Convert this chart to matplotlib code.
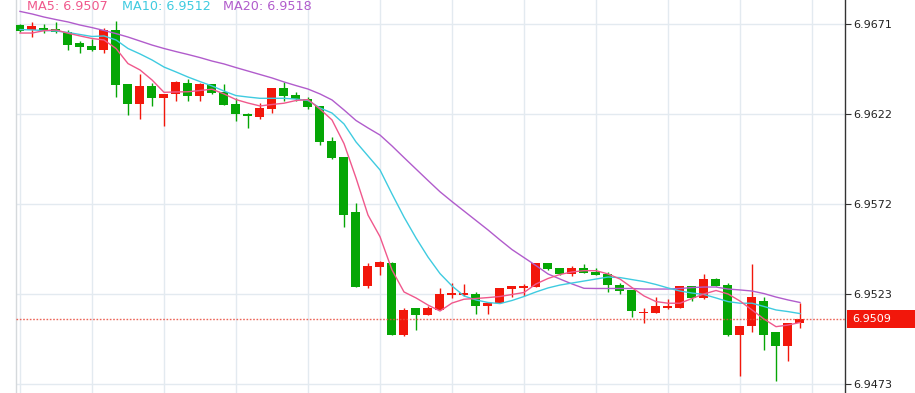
import matplotlib
matplotlib.use("Agg")
import matplotlib.pyplot as plt
from matplotlib.transforms import blended_transform_factory
from matplotlib.patches import Rectangle

# ---- data ----
opens = [6.96706, 6.96676, 6.96690, 6.96684, 6.96669, 6.96609, 6.96589, 6.96566, 6.96679, 6.96379,
         6.96273, 6.96371, 6.96305, 6.96325, 6.96387, 6.96315, 6.96380, 6.96339, 6.96270, 6.96219,
         6.96202, 6.96244, 6.96360, 6.96321, 6.96301, 6.96261, 6.96070, 6.95980, 6.95678, 6.95272,
         6.95374, 6.95399, 6.95001, 6.95148, 6.95111, 6.95140, 6.95221, 6.95221, 6.95228, 6.95162,
         6.95176, 6.95256, 6.95260, 6.95264, 6.95399, 6.95368, 6.95335, 6.95368, 6.95349, 6.95338,
         6.95278, 6.95250, 6.95122, 6.95124, 6.95151, 6.95151, 6.95269, 6.95203, 6.95309, 6.95278,
         6.95003, 6.95052, 6.95188, 6.95018, 6.94942, 6.95065]
highs = [6.96710, 6.96721, 6.96710, 6.96720, 6.96677, 6.96619, 6.96628, 6.96689, 6.96729, 6.96380,
         6.96439, 6.96387, 6.96328, 6.96399, 6.96408, 6.96386, 6.96380, 6.96380, 6.96303, 6.96221,
         6.96279, 6.96360, 6.96391, 6.96338, 6.96309, 6.96261, 6.96089, 6.95980, 6.95729, 6.95399,
         6.95408, 6.95400, 6.95151, 6.95148, 6.95162, 6.95260, 6.95287, 6.95280, 6.95238, 6.95179,
         6.95260, 6.95271, 6.95280, 6.95399, 6.95399, 6.95368, 6.95381, 6.95390, 6.95368, 6.95348,
         6.95287, 6.95250, 6.95148, 6.95209, 6.95199, 6.95269, 6.95269, 6.95338, 6.95313, 6.95287,
         6.95049, 6.95390, 6.95209, 6.95018, 6.95067, 6.95179]
lows = [6.96669, 6.96641, 6.96661, 6.96664, 6.96570, 6.96551, 6.96565, 6.96551, 6.96309, 6.96210,
        6.96189, 6.96259, 6.96148, 6.96289, 6.96289, 6.96289, 6.96327, 6.96264, 6.96180, 6.96141,
        6.96189, 6.96221, 6.96290, 6.96290, 6.96243, 6.96048, 6.95971, 6.95597, 6.95263, 6.95260,
        6.95330, 6.95001, 6.94997, 6.95030, 6.95111, 6.95140, 6.95206, 6.95217, 6.95117, 6.95118,
        6.95176, 6.95210, 6.95214, 6.95264, 6.95360, 6.95331, 6.95327, 6.95344, 6.95331, 6.95239,
        6.95227, 6.95099, 6.95069, 6.95124, 6.95143, 6.95151, 6.95190, 6.95199, 6.95269, 6.94997,
        6.94777, 6.95019, 6.94920, 6.94748, 6.94858, 6.95038]
closes = [6.96675, 6.96699, 6.96676, 6.96665, 6.96595, 6.96584, 6.96566, 6.96680, 6.96375, 6.96273,
          6.96371, 6.96305, 6.96328, 6.96390, 6.96315, 6.96380, 6.96334, 6.96265, 6.96215, 6.96206,
          6.96250, 6.96360, 6.96313, 6.96298, 6.96255, 6.96063, 6.95975, 6.95663, 6.95264, 6.95381,
          6.95401, 6.95003, 6.95140, 6.95111, 6.95148, 6.95228, 6.95231, 6.95231, 6.95162, 6.95179,
          6.95260, 6.95271, 6.95271, 6.95399, 6.95364, 6.95335, 6.95368, 6.95344, 6.95331, 6.95275,
          6.95245, 6.95133, 6.95128, 6.95159, 6.95161, 6.95269, 6.95203, 6.95309, 6.95272, 6.95001,
          6.95049, 6.95209, 6.95003, 6.94942, 6.95067, 6.95090]

ma5 = [6.96662, 6.96662, 6.96675, 6.96679, 6.96661, 6.96646, 6.96632, 6.96624, 6.96577, 6.96494,
       6.96459, 6.96404, 6.96336, 6.96338, 6.96339, 6.96346, 6.96353, 6.96327, 6.96296, 6.96277,
       6.96261, 6.96269, 6.96276, 6.96291, 6.96296, 6.96244, 6.96184, 6.96054, 6.95865, 6.95661,
       6.95542, 6.95359, 6.95238, 6.95205, 6.95166, 6.95133, 6.95177, 6.95198, 6.95202, 6.95207,
       6.95213, 6.95224, 6.95235, 6.95282, 6.95312, 6.95334, 6.95348, 6.95355, 6.95355, 6.95337,
       6.95309, 6.95262, 6.95216, 6.95185, 6.95176, 6.95176, 6.95202, 6.95227, 6.95246, 6.95227,
       6.95188, 6.95139, 6.95089, 6.95047, 6.95056, 6.95070]
ma10 = [6.96681, 6.96679, 6.96676, 6.96673, 6.96665, 6.96654, 6.96643, 6.96646, 6.96624, 6.96577,
        6.96547, 6.96514, 6.96475, 6.96448, 6.96420, 6.96395, 6.96371, 6.96343, 6.96318, 6.96310,
        6.96303, 6.96303, 6.96303, 6.96299, 6.96291, 6.96250, 6.96222, 6.96162, 6.96063, 6.95986,
        6.95909, 6.95777, 6.95650, 6.95535, 6.95430, 6.95339, 6.95271, 6.95216, 6.95194, 6.95180,
        6.95174, 6.95191, 6.95213, 6.95238, 6.95260, 6.95276, 6.95287, 6.95298, 6.95309, 6.95320,
        6.95317, 6.95306, 6.95295, 6.95279, 6.95260, 6.95243, 6.95232, 6.95224, 6.95205, 6.95185,
        6.95176, 6.95176, 6.95158, 6.95139, 6.95130, 6.95119]
ma20 = [6.96781, 6.96767, 6.96750, 6.96736, 6.96723, 6.96706, 6.96692, 6.96676, 6.96659, 6.96640,
        6.96618, 6.96596, 6.96577, 6.96560, 6.96544, 6.96527, 6.96508, 6.96492, 6.96472, 6.96453,
        6.96434, 6.96415, 6.96393, 6.96373, 6.96354, 6.96327, 6.96294, 6.96239, 6.96181, 6.96140,
        6.96101, 6.96041, 6.95977, 6.95914, 6.95851, 6.95789, 6.95735, 6.95683, 6.95631, 6.95579,
        6.95524, 6.95471, 6.95427, 6.95383, 6.95337, 6.95309, 6.95282, 6.95258, 6.95257, 6.95257,
        6.95257, 6.95257, 6.95254, 6.95254, 6.95254, 6.95257, 6.95262, 6.95265, 6.95265, 6.95254,
        6.95249, 6.95243, 6.95229, 6.95210, 6.95194, 6.95180]

ytick_values = [6.9671, 6.96215, 6.9572, 6.95225, 6.9473]
ytick_labels = ["6.9671", "6.9622", "6.9572", "6.9523", "6.9473"]
last_price = 6.9509
last_label = "6.9509"
ma_labels = ["MA5: 6.9507", "MA10: 6.9512", "MA20: 6.9518"]

# ---- styles ----
UP = "#f2170b"
DOWN = "#05a605"
C_MA5 = "#f0588c"
C_MA10 = "#3fcbe0"
C_MA20 = "#b15ccc"
GRID = "#e3eaf0"

W, H = 915, 393
fig = plt.figure(figsize=(W / 100, H / 100), dpi=100)
left_px, right_px = 16, 845
ax = fig.add_axes([left_px / W, 0, (right_px - left_px) / W, 1])

n = len(opens)
xs = list(range(n))

ax.set_xlim(-0.333, 68.75)
ax.set_ylim(6.946822, 6.968437)

# grid
for k in range(0, n + 6, 6):
    ax.axvline(k, color=GRID, lw=1, zorder=0)
for v in ytick_values:
    ax.axhline(v, color=GRID, lw=1, zorder=0)

# candles
min_body = 0.00006
for i in xs:
    o, h, l, c = opens[i], highs[i], lows[i], closes[i]
    col = UP if c >= o else DOWN
    ax.vlines(i, l, h, color=col, lw=1, zorder=2)
    body = abs(c - o)
    bottom = min(o, c)
    if body < min_body:
        bottom = (o + c) / 2 - min_body / 2
        body = min_body
    ax.bar(i, body, bottom=bottom, width=0.75, color=col, edgecolor=col,
           linewidth=0, zorder=3)

# moving averages
ax.plot(xs, ma20, color=C_MA20, lw=1, zorder=4)
ax.plot(xs, ma10, color=C_MA10, lw=1, zorder=4)
ax.plot(xs, ma5, color=C_MA5, lw=1, zorder=4)

# last price line
ax.axhline(last_price, color="#e84a3c", lw=1, ls=(0, (1.2, 1.2)), alpha=0.85, zorder=5)

# axes styling
for s in ["top", "bottom"]:
    ax.spines[s].set_visible(False)
ax.spines["left"].set_color("#d5d9dc")
ax.spines["left"].set_linewidth(1)
ax.spines["right"].set_color("#333333")
ax.spines["right"].set_linewidth(1)
ax.set_xticks([])
ax.yaxis.tick_right()
ax.set_yticks(ytick_values)
ax.set_yticklabels(ytick_labels)
ax.tick_params(axis="y", direction="out", length=4, width=0.8, color="#333333",
               labelsize=8, labelcolor="#222222", pad=2)

# price tag on the right
tr = blended_transform_factory(fig.transFigure, ax.transData)
yr = ax.get_ylim()
h_data = 18 / H * (yr[1] - yr[0])
ax.add_patch(Rectangle((847 / W, last_price - h_data / 2), (W - 847) / W, h_data,
                       transform=tr, facecolor=UP, edgecolor="none", clip_on=False, zorder=6))
ax.text(852 / W, last_price, last_label, transform=tr, color="white", fontsize=8,
        va="center", ha="left", zorder=7, clip_on=False)

# MA legend at top
for txt, col, xpx in zip(ma_labels, [C_MA5, C_MA10, C_MA20], [27, 122, 223]):
    fig.text(xpx / W, 1 - 10.5 / H, txt, color=col, fontsize=9.2, ha="left", va="baseline")

fig.savefig("out.png", dpi=100)
